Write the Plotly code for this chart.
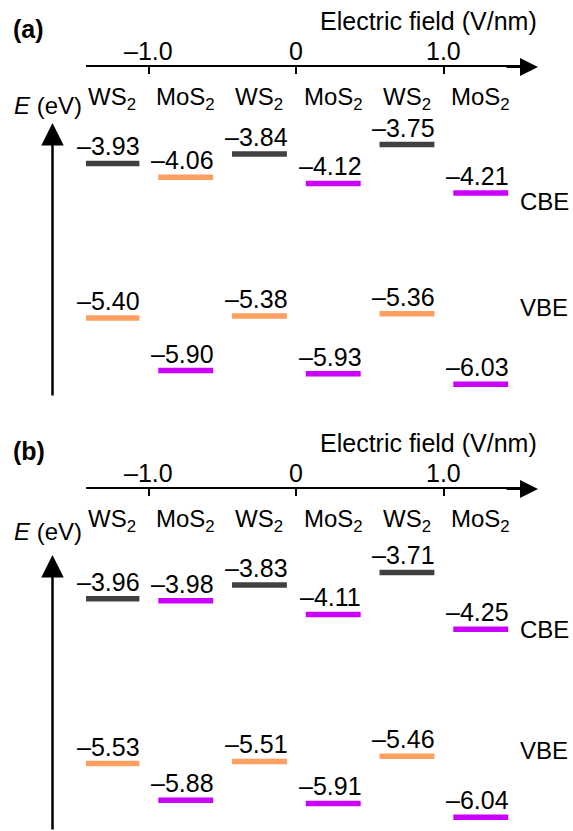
import plotly.graph_objects as go

W, H = 573, 831

# ---------------- data ----------------
fields = [-1.0, 0.0, 1.0]
field_ticktext = ["–1.0", "0", "1.0"]
material_labels = ["WS<sub>2</sub>", "MoS<sub>2</sub>"]

DARK = "#404040"
ORANGE = "#FF9F5F"
MAGENTA = "#CC00FF"

# panel (a)
a_ws2_cbe = [-3.93, -3.84, -3.75]
a_mos2_cbe = [-4.06, -4.12, -4.21]
a_ws2_vbe = [-5.40, -5.38, -5.36]
a_mos2_vbe = [-5.90, -5.93, -6.03]
a_ws2_cbe_col = [DARK, DARK, DARK]
a_mos2_cbe_col = [ORANGE, MAGENTA, MAGENTA]
a_ws2_vbe_col = [ORANGE, ORANGE, ORANGE]
a_mos2_vbe_col = [MAGENTA, MAGENTA, MAGENTA]

# panel (b)
b_ws2_cbe = [-3.96, -3.83, -3.71]
b_mos2_cbe = [-3.98, -4.11, -4.25]
b_ws2_vbe = [-5.53, -5.51, -5.46]
b_mos2_vbe = [-5.88, -5.91, -6.04]
b_ws2_cbe_col = [DARK, DARK, DARK]
b_mos2_cbe_col = [MAGENTA, MAGENTA, MAGENTA]
b_ws2_vbe_col = [ORANGE, ORANGE, ORANGE]
b_mos2_vbe_col = [MAGENTA, MAGENTA, MAGENTA]

# ---------------- style ----------------
FONT = "Liberation Sans, Arial, Helvetica, sans-serif"
FS = 25
FS_MAT = 24
OFFSET = {"WS2": -0.25, "MoS2": 0.25}
HALF_W = 0.186
BAR_LW = 5.5


def P(xpx, ypx):
    return xpx / W, 1 - ypx / H


fig = go.Figure()
annotations = []


def fmt(v):
    return ("–" if v < 0 else "") + f"{abs(v):.2f}"


def add_bars(values, colors, mat, xa, ya):
    for f, v, c in zip(fields, values, colors):
        xc = f + OFFSET[mat]
        fig.add_trace(go.Scatter(
            x=[xc - HALF_W, xc + HALF_W], y=[v, v], mode="lines",
            line=dict(color=c, width=BAR_LW), xaxis=xa, yaxis=ya,
            hoverinfo="skip", showlegend=False))
        annotations.append(dict(
            x=xc, y=v, xref=xa, yref=ya, text=fmt(v), showarrow=False,
            xanchor="center", yanchor="bottom", xshift=-3, yshift=1,
            font=dict(family=FONT, size=FS, color="black")))


panels = [
    dict(xa="x", ya="y", tag="(a)", line_y=67, tip_y=123, bot_y=397,
         eev_y=105, cbe_y=202, vbe_y=307,
         data=[(a_ws2_cbe, a_ws2_cbe_col, "WS2"), (a_mos2_cbe, a_mos2_cbe_col, "MoS2"),
               (a_ws2_vbe, a_ws2_vbe_col, "WS2"), (a_mos2_vbe, a_mos2_vbe_col, "MoS2")]),
    dict(xa="x2", ya="y2", tag="(b)", line_y=489, tip_y=555, bot_y=831,
         eev_y=531, cbe_y=629, vbe_y=750,
         data=[(b_ws2_cbe, b_ws2_cbe_col, "WS2"), (b_mos2_cbe, b_mos2_cbe_col, "MoS2"),
               (b_ws2_vbe, b_ws2_vbe_col, "WS2"), (b_mos2_vbe, b_mos2_vbe_col, "MoS2")]),
]

for p in panels:
    for vals, cols, mat in p["data"]:
        add_bars(vals, cols, mat, p["xa"], p["ya"])
    ly = p["line_y"]
    # panel tag
    x0, y0 = P(11, ly - 38)
    annotations.append(dict(x=x0, y=y0, xref="paper", yref="paper", text="<b>" + p["tag"] + "</b>",
                            showarrow=False, xanchor="left", yanchor="middle",
                            font=dict(family=FONT, size=FS, color="black")))
    # axis title
    x0, y0 = P(539, ly - 46)
    annotations.append(dict(x=x0, y=y0, xref="paper", yref="paper", text="Electric field (V/nm)",
                            showarrow=False, xanchor="right", yanchor="middle",
                            font=dict(family=FONT, size=FS, color="black")))
    # tick labels (placed above the axis line, at the tick values)
    _, yt = P(0, ly - 16)
    for f, t in zip(fields, field_ticktext):
        annotations.append(dict(x=f, y=yt, xref=p["xa"], yref="paper", text=t,
                                showarrow=False, xanchor="center", yanchor="middle",
                                font=dict(family=FONT, size=FS, color="black")))
    # x axis arrow head
    x0, y0 = P(538, ly)
    annotations.append(dict(x=x0, y=y0, ax=-33, ay=0, xref="paper", yref="paper",
                            axref="pixel", ayref="pixel", text="", showarrow=True,
                            arrowhead=2, arrowsize=1.8, arrowwidth=2, arrowcolor="black"))
    # y axis arrow
    x0, y0 = P(52.5, p["tip_y"])
    annotations.append(dict(x=x0, y=y0, ax=0, ay=p["bot_y"] - p["tip_y"], xref="paper",
                            yref="paper", axref="pixel", ayref="pixel", text="",
                            showarrow=True, arrowhead=2, arrowsize=1.8, arrowwidth=2.5,
                            arrowcolor="black"))
    # E (eV)
    x0, y0 = P(12, p["eev_y"])
    annotations.append(dict(x=x0, y=y0, xref="paper", yref="paper", text="<i>E</i> (eV)",
                            showarrow=False, xanchor="left", yanchor="middle",
                            font=dict(family=FONT, size=FS_MAT, color="black")))
    # material labels
    for f in fields:
        for mat, lab in zip(["WS2", "MoS2"], material_labels):
            _, yy = P(0, ly + 31)
            annotations.append(dict(x=f + OFFSET[mat], y=yy, xref=p["xa"], yref="paper",
                                    text=lab, showarrow=False, xanchor="center",
                                    yanchor="middle",
                                    font=dict(family=FONT, size=FS_MAT, color="black")))
    # CBE / VBE
    for lab, yy in [("CBE", p["cbe_y"]), ("VBE", p["vbe_y"])]:
        x0, y0 = P(518, yy)
        annotations.append(dict(x=x0, y=y0, xref="paper", yref="paper", text=lab,
                                showarrow=False, xanchor="left", yanchor="middle",
                                font=dict(family=FONT, size=FS_MAT, color="black")))

xdom = [86 / W, 530 / W]
xrange_ = [-1.426, 1.584]
xcommon = dict(domain=xdom, range=xrange_, side="top", tickmode="array",
               tickvals=fields, ticktext=field_ticktext, ticks="inside",
               ticklen=7, tickwidth=2, tickcolor="black", showline=True,
               linewidth=2, linecolor="black", showgrid=False, zeroline=False,
               showticklabels=False, fixedrange=True)

fig.update_layout(
    width=W, height=H, margin=dict(l=0, r=0, t=0, b=0),
    paper_bgcolor="white", plot_bgcolor="white", showlegend=False,
    xaxis=dict(anchor="y", **xcommon),
    xaxis2=dict(anchor="y2", **xcommon),
    yaxis=dict(domain=[1 - 400 / H, 1 - 67 / H], range=[-6.180, -3.012], visible=False,
               fixedrange=True),
    yaxis2=dict(domain=[0, 1 - 489 / H], range=[-6.172, -2.915], visible=False,
                fixedrange=True),
    annotations=annotations,
)

fig.write_html("out.html", config={"displayModeBar": False},
               post_script="document.body.style.margin='0px';")
